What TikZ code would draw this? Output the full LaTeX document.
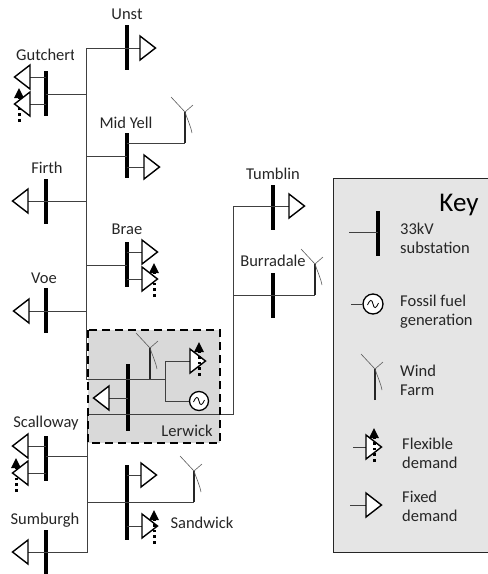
\documentclass[tikz,border=0pt]{standalone}
\usepackage{fontspec}
\setmainfont{Carlito}
\tikzset{
  lbl/.style={font=\fontsize{16.5}{19}\selectfont,text=black!85,inner sep=0pt},
  keytext/.style={lbl,anchor=west,align=left},
  busbar/.style={fill=black,draw=none,rectangle,inner sep=0pt,minimum width=4pt,minimum height=45pt},
  wire/.style={line width=.85pt,draw=black!75},
  tri/.style={line width=1.4pt,draw=black,fill=white,line join=miter},
  flexdots/.style={line width=3pt,draw=black,dash pattern=on 2.8pt off 3pt},
  flexhead/.style={fill=black,draw=none},
  blade/.style={line width=.6pt,draw=black!65},
  tower/.style={line width=2.2pt,draw=black!85},
  gen/.style={circle,draw=black,line width=1.3pt,fill=white,inner sep=0pt,minimum size=19pt},
}
\newcommand{\triR}[2]{\draw[tri] (#1,#2-12) -- (#1+15.5,#2) -- (#1,#2+12) -- cycle;}
\newcommand{\triL}[2]{\draw[tri] (#1,#2-12) -- (#1-15.5,#2) -- (#1,#2+12) -- cycle;}
\newcommand{\flexar}[2]{
  \draw[flexdots] (#1,#2+34) -- (#1,#2+9);
  \fill[flexhead] (#1,#2) -- (#1+5,#2+10) -- (#1-5,#2+10) -- cycle;}
\newcommand{\turbine}[2]{
  \draw[tower] (#1,#2) -- (#1,#2-31);
  \draw[blade] (#1,#2-31) -- (#1-14,#2-46);
  \draw[blade] (#1,#2-31) -- (#1+8,#2-38);
  \draw[blade] (#1,#2-31) .. controls (#1+3,#2-22) and (#1+6,#2-16) .. (#1+7,#2-10);}
\newcommand{\tap}[3]{\draw[wire] (#1,#2) -- (#3 |- #1,#2);}
\begin{document}
\begin{tikzpicture}[x=1pt,y=-1pt]
\useasboundingbox (0,0) rectangle (488,574);
\node[draw=black!85,line width=1.4pt,fill=black!10,rectangle,inner sep=0pt,minimum width=156pt,minimum height=374pt,anchor=north west] (keybox) at (333,178) {};
\coordinate (jUnst) at (86,48);
\coordinate (jSumb) at (87,552);
\coordinate (jLer) at (86,379);
\coordinate (jLerS) at (87,414);
\coordinate (jEast) at (233,414);
\coordinate (jTumb) at (233,206);
\node[rectangle,fill=black!15,draw=none,inner sep=0pt,minimum width=132pt,minimum height=113pt,anchor=north west] (lerbox) at (88,330) {};
\node[busbar] (unst) at (127,47.5) {};
\node[busbar] (gut) at (46,93.5) {};
\node[busbar] (yell) at (127,155) {};
\node[busbar] (firth) at (46,201) {};
\node[busbar] (brae) at (127,264.5) {};
\node[busbar] (voe) at (46,310.5) {};
\node[busbar,minimum height=67pt] (ler) at (128,397.5) {};
\node[busbar] (scal) at (46,458) {};
\node[busbar,minimum height=75pt] (sand) at (127,502.5) {};
\node[busbar,minimum height=45pt] (sumb) at (46,552) {};
\node[busbar] (tumb) at (273,207.5) {};
\node[busbar] (burr) at (273,295.5) {};
\node[busbar] (kbus) at (378,233.5) {};
% main wiring
\draw[wire] (jLer) -- (jUnst) -- (140,48);
\draw[wire] (jLerS) -- (jSumb) -- (28,552);
\tap{86}{94}{gut}
\tap{86}{156}{yell}
\draw[wire] (86,201) -- (28,201);
\tap{86}{265}{brae}
\draw[wire] (86,311) -- (29,311);
\tap{87}{456}{scal}
\tap{87}{502}{sand}
\draw[wire] (jLer) -- (165,379);
\draw[wire] (jLerS) -- (jEast) -- (jTumb) -- (289,206);
\draw[wire] (233,295) -- (315,295);
% stubs
\draw[wire] (30,77) -- (46,77) (30,104) -- (46,104);
\draw[wire] (127,143) -- (185,143) (127,167) -- (144,167);
\draw[wire] (127,252) -- (142,252) (127,279) -- (142,279);
\draw[wire] (28,446) -- (46,446) (28,473) -- (46,473);
\draw[wire] (127,475) -- (141,475) (127,502) -- (194,502) (127,526) -- (142,526);
% Lerwick internal
\coordinate (lerj) at (165,379);
\node[gen] (lgen) at (199,401) {};
\draw[wire] (lerj) -- (165,361) -- (190,361);
\draw[wire] (lerj) -- (165,401) -- (lgen);
\draw[wire] (109,398) -- (128,398);
\draw[line width=2.2pt,dash pattern=on 8pt off 5pt,draw=black] (88,330) rectangle (220,443);
% triangles
\triR{140}{48}
\triL{30}{77}
\flexar{19}{88}
\triL{30}{104}
\triR{144}{167}
\triL{28}{201}
\triR{142}{252}
\flexar{154}{263}
\triR{142}{279}
\triL{29}{311}
\triL{109}{398}
\triR{190}{361}
\flexar{199}{342}
\triL{28}{446}
\flexar{16}{458}
\triL{28}{473}
\triR{141}{475}
\triR{142}{526}
\flexar{154}{510}
\triL{28}{552}
\triR{289}{206}
\turbine{185}{143}
\turbine{150}{379}
\turbine{194}{502}
\turbine{315}{295}
\draw[line width=.8pt] (193.5,402) .. controls (196,396) and (198,396) .. (199,401) .. controls (200,406) and (202,406) .. (204.5,400);
% labels
\node[lbl] (lUnst) at (127,14) {Unst};
\begin{scope}
\clip (0,40) rectangle (73,70);
\node[lbl,anchor=west] (lGut) at (16,55) {Gutchert};
\end{scope}
\node[lbl] (lYell) at (126,123) {Mid Yell};
\node[lbl] (lFirth) at (47,168) {Firth};
\node[lbl] (lBrae) at (127,229) {Brae};
\node[lbl] (lVoe) at (44,278) {Voe};
\node[lbl] (lLer) at (187,431) {Lerwick};
\node[lbl] (lScal) at (46,423) {Scalloway};
\node[lbl] (lSand) at (202,523) {Sandwick};
\node[lbl] (lSumb) at (45,520) {Sumburgh};
\node[lbl] (lTumb) at (273,174) {Tumblin};
\node[lbl] (lBurr) at (273,261) {Burradale};
% Key
\node[lbl,font=\fontsize{27}{30}\selectfont,text=black] (kKey) at (459,205) {Key};
\coordinate (kbEnd) at (349,232);
\tap{349}{232}{kbus}
\node[keytext] (k1) at (400,238) {33kV\\substation};
\node[gen,minimum size=20pt] (kgen) at (373,304) {};
\coordinate (kgEnd) at (351,304);
\draw[wire] (kgEnd) -- (kgen);
\draw[line width=.8pt] (367.5,305) .. controls (370,299) and (372,299) .. (373,304) .. controls (374,309) and (376,309) .. (378.5,303);
\node[keytext] (k2) at (400,312) {Fossil fuel\\generation};
\turbine{375}{400}
\node[keytext] (k3) at (400,380) {Wind\\Farm};
\coordinate (kfEnd) at (353,447);
\draw[wire] (kfEnd) -- (366,447);
\triR{366}{447}
\flexar{374}{428}
\node[keytext] (k4) at (402,453) {Flexible\\demand};
\coordinate (kdEnd) at (350,505);
\draw[wire] (kdEnd) -- (366,505);
\triR{366}{505}
\node[keytext] (k5) at (402,506) {Fixed\\demand};
\end{tikzpicture}
\end{document}
